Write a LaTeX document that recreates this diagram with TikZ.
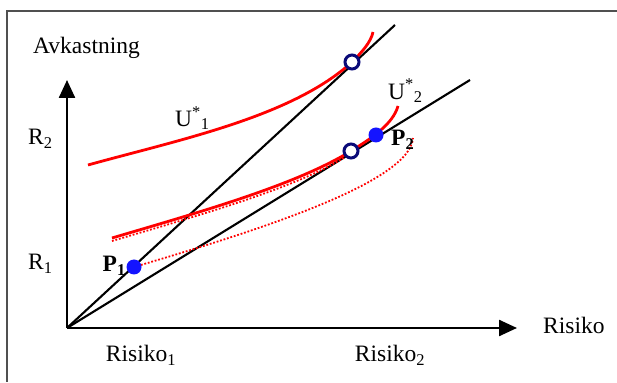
\documentclass[tikz,border=0pt]{standalone}
\usepackage{fontspec}
\setmainfont{Liberation Serif}
\usepackage{tikz}
\usetikzlibrary{arrows.meta}
\definecolor{Red}  {HTML}{FF0000}
\definecolor{Navy} {HTML}{0A0A78}
\definecolor{Dot}  {HTML}{1414FF}
\definecolor{Frame}{HTML}{505050}
\tikzset{
  axis/.style={-{Triangle[length=18pt,width=16pt]}, line width=2.4pt},
  ray/.style={line width=2.1pt},
  indiff/.style={Red, line width=2.8pt},
  opp/.style={Red, line width=1.8pt, dash pattern=on 1.8pt off 1.8pt},
  tang/.style={circle, draw=Navy, fill=white, line width=3pt, minimum size=14pt, inner sep=0pt},
  port/.style={circle, fill=Dot, minimum size=15pt, inner sep=0pt},
  lbl/.style={font=\fontsize{23.5}{26}\selectfont, inner sep=0pt}
}

\begin{document}
\begin{tikzpicture}[x=1pt,y=1pt]
  \useasboundingbox (0,0) rectangle (617,382);
  \draw[Frame,line width=1.5pt] (617,371) -- (7,371) -- (7,0);
  \coordinate (O)  at (67,54);
  \coordinate (Yt) at (67,302);
  \coordinate (Xt) at (517,54);
  \coordinate (L1) at (395,357);
  \coordinate (L2) at (470,302);
  % rays from the origin
  \draw[ray] (O) -- (L1);
  \draw[ray] (O) -- (L2);
  \draw[axis] (O) -- (Yt);
  \draw[axis] (O) -- (Xt);
  % indifference curves and the opportunity set
  \draw[indiff] (88,217) .. controls (178,242) and (292,265) .. (352,320)
                         .. controls (362,330) and (371,340) .. (373,350);
  \draw[opp] (112,141) .. controls (200,167) and (296,194) .. (345,225);
  \draw[indiff] (112,144) .. controls (200,170) and (296,197) .. (351,231)
                          .. controls (372,244) and (393,258) .. (398,276);
  \draw[opp] (134,115) .. controls (260,152) and (410,200) .. (413,244);
  % points
  \node[tang] (T1) at (352,320) {};
  \node[tang] (T2) at (351,231) {};
  \node[port] (P1) at (134,115) {};
  \node[port] (P2) at (376,247) {};
  % labels
  \node[lbl,anchor=west] (ylab) at (33,334) {Avkastning};
  \node[lbl,anchor=west] (xlab) at (543,57) {Risiko};
  \node[lbl,anchor=west] (R2) at (28,243) {R\textsubscript{2}};
  \node[lbl,anchor=west] (R1) at (28,118) {R\textsubscript{1}};
  \node[lbl] (S1) at (141,27) {Risiko\textsubscript{1}};
  \node[lbl] (S2) at (390,27) {Risiko\textsubscript{2}};
  \node[lbl,anchor=west] (U1) at (175,264) {U\textsuperscript{*}\textsubscript{1}};
  \node[lbl,anchor=west] (U2) at (388,291) {U\textsuperscript{*}\textsubscript{2}};
  \node[lbl,anchor=east] (P1l) at (126,116) {\textbf{P\textsubscript{1}}};
  \node[lbl,anchor=west] (P2l) at (391,242) {\textbf{P\textsubscript{2}}};
\end{tikzpicture}
\end{document}
